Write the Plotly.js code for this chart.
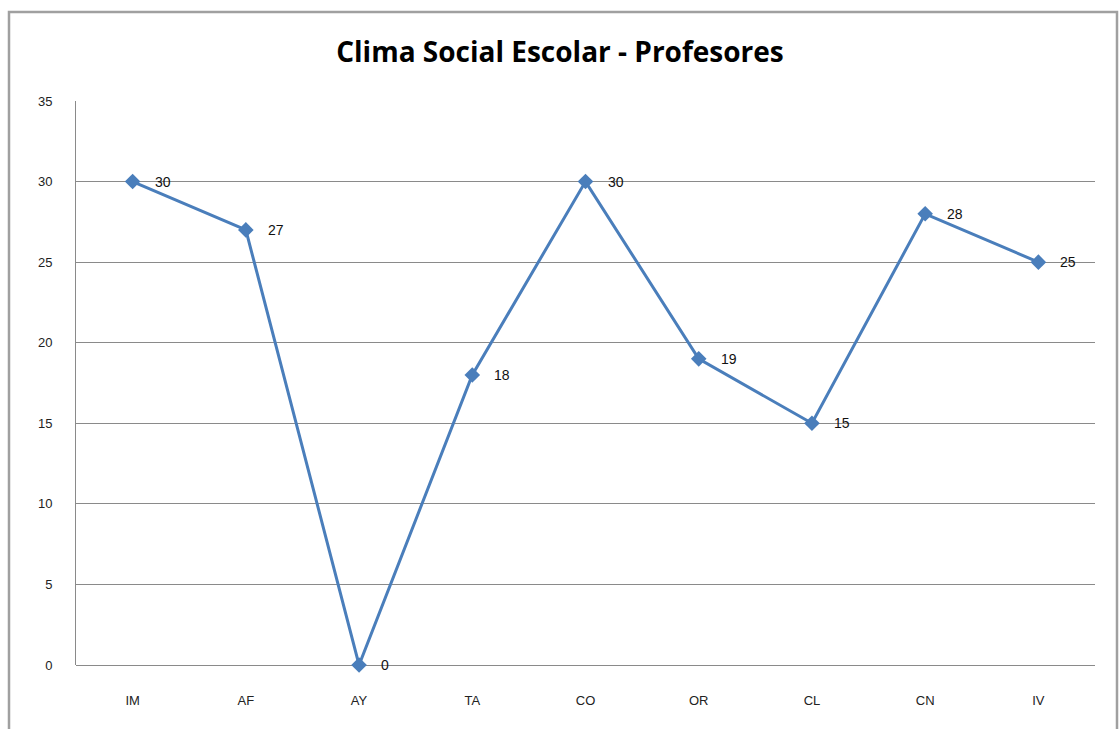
<!DOCTYPE html>
<html>
<head>
<meta charset="utf-8">
<script src="https://cdn.plot.ly/plotly-3.0.1.min.js"></script>
<style>html,body{margin:0;padding:0;background:#fff;}#chart{width:1120px;height:729px;}</style>
</head>
<body>
<div id="chart"></div>
<script>
const categories = ["IM","AF","AY","TA","CO","OR","CL","CN","IV"];
const values = [30, 27, 0, 18, 30, 19, 15, 28, 25];
const yTicks = [0, 5, 10, 15, 20, 25, 30, 35];
const chartTitle = "Clima Social Escolar - Profesores";

const xIdx = categories.map((c, i) => i);

const trace = {
  x: xIdx,
  y: values,
  type: "scatter",
  mode: "lines+markers",
  line: {color: "#4A7EBB", width: 3},
  marker: {symbol: "diamond", size: 12, color: "#4A7EBB"},
  hoverinfo: "x+y",
  cliponaxis: false
};

const annotations = values.map((v, i) => ({
  x: i, y: v, xref: "x", yref: "y",
  text: String(v), showarrow: false,
  xanchor: "left", yanchor: "middle",
  xshift: 20,
  font: {family: "Liberation Sans, Arial, sans-serif", size: 14, color: "#111"}
}));

const layout = {
  width: 1120, height: 729,
  margin: {l: 76, r: 25, t: 101, b: 64},
  paper_bgcolor: "#fff", plot_bgcolor: "#fff",
  showlegend: false,
  title: {
    text: "<b>" + chartTitle + "</b>",
    x: 0.5, xanchor: "center", y: 0.928, yanchor: "middle",
    font: {family: "Open Sans, Noto Sans, sans-serif", size: 28, color: "#000"}
  },
  xaxis: {
    range: [-0.5, categories.length - 0.5],
    tickmode: "array", tickvals: xIdx, ticktext: categories,
    showgrid: false, zeroline: false,
    showline: false, ticks: "",
    tickfont: {family: "Liberation Sans, Arial, sans-serif", size: 13, color: "#222"},
    ticklabelstandoff: 26,
    fixedrange: true
  },
  yaxis: {
    range: [0, 35],
    tickmode: "array", tickvals: yTicks,
    showgrid: true, gridcolor: "#8a8a8a", gridwidth: 1,
    zeroline: true, zerolinecolor: "#8a8a8a", zerolinewidth: 1,
    showline: true, linecolor: "#8a8a8a", linewidth: 1,
    ticks: "",
    tickfont: {family: "Liberation Sans, Arial, sans-serif", size: 13, color: "#222"},
    ticklabelstandoff: 20,
    fixedrange: true
  },
  annotations: annotations,
  shapes: [{
    type: "rect", xref: "paper", yref: "paper",
    x0: (9 - 76) / 1019, x1: (1117 - 76) / 1019,
    y0: (665 - 740) / 564, y1: (665 - 12) / 564,
    line: {color: "#a0a0a0", width: 2.5}, fillcolor: "rgba(0,0,0,0)", layer: "below"
  }]
};

Plotly.newPlot("chart", [trace], layout, {displayModeBar: false, staticPlot: true});
</script>
</body>
</html>
